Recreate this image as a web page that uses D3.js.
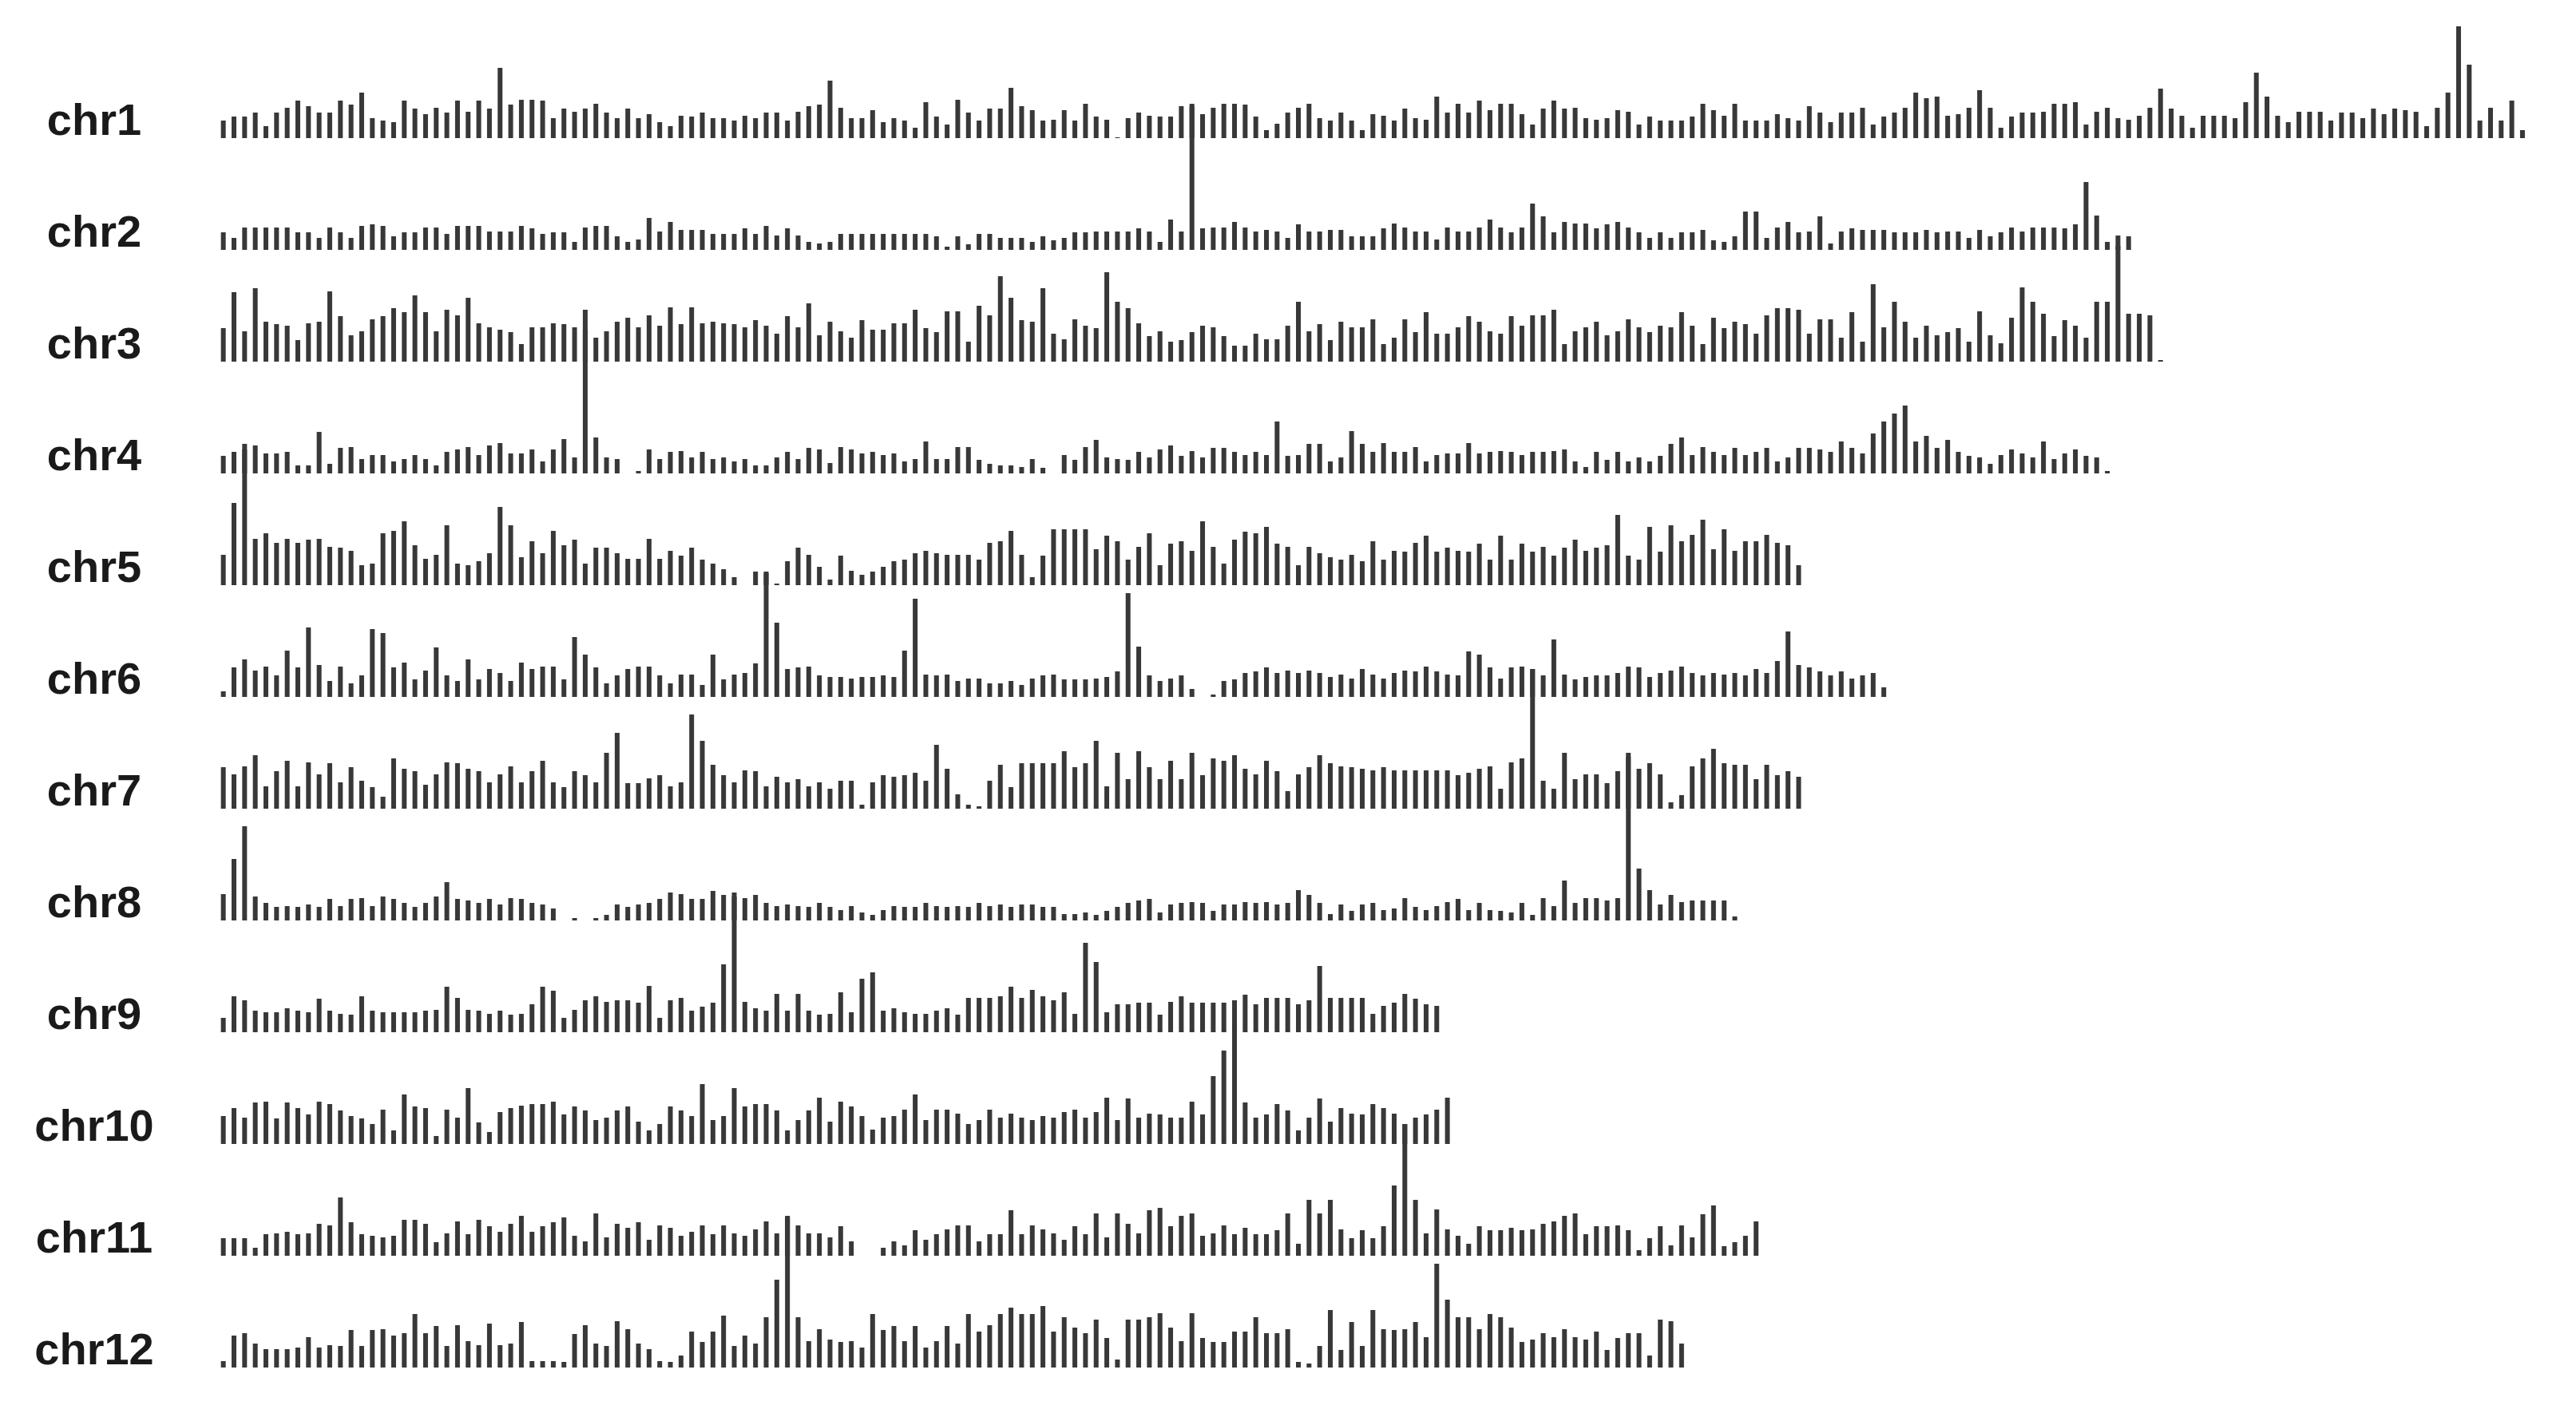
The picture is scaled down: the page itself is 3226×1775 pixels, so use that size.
<!DOCTYPE html>
<html>
<head>
<meta charset="utf-8">
<script src="https://cdn.jsdelivr.net/npm/d3@7"></script>
<style>
  html, body { margin: 0; padding: 0; background: #ffffff; }
  svg { display: block; }
</style>
</head>
<body>
<div id="chart"></div>
<script>
// ---- DATA (values per 200 kb bin, arbitrary units) ----
const chromosomes = ["chr1","chr2","chr3","chr4","chr5","chr6","chr7","chr8","chr9","chr10","chr11","chr12"];
const binSizeMb = 0.2;

const chr1 = [22,27,27,32,15,32,38,47,40,32, 32,47,42,57,25,22,20,47,37,30, 38,32,47,33,47,37,88,42,48,48,
  47,25,37,33,37,43,32,25,37,25, 30,20,15,28,27,32,25,25,22,28, 25,32,32,22,33,40,42,72,38,25,
  25,35,20,25,22,13,45,27,17,48, 32,22,37,37,63,40,35,22,23,35, 22,43,27,23,1,25,32,28,27,27,
  40,43,30,38,43,43,42,27,10,18, 32,38,43,25,22,32,22,10,30,28, 22,37,25,23,52,32,43,32,47,35,
  43,43,30,17,37,47,37,38,25,23, 25,35,33,17,27,22,22,22,27,43, 35,28,43,22,22,22,30,25,22,40,
  32,20,32,32,38,17,27,32,38,57, 50,52,28,30,38,60,38,13,27,32, 32,33,43,43,45,17,33,38,25,23,
  28,38,62,37,28,13,28,28,28,25, 45,82,52,28,20,33,33,33,22,32, 32,25,37,30,37,35,33,15,38,57,
  140,92,22,38,22,47,10];
const chr2 = [22,15,28,28,28,28,28,22,22,15, 28,22,15,30,32,30,17,22,22,28, 28,20,30,30,30,23,23,23,30,27,
  20,22,22,10,28,30,30,17,10,13, 40,23,35,25,25,25,20,20,20,27, 20,30,18,27,18,10,8,10,20,20,
  20,20,20,20,20,20,20,17,4,17, 7,20,20,15,15,15,10,17,12,15, 22,22,23,23,23,23,27,23,10,38,
  23,180,27,28,28,35,28,23,25,23, 15,32,23,23,25,25,17,17,17,27, 33,28,23,23,13,28,23,23,28,38,
  28,22,28,58,42,22,35,33,33,27, 32,35,28,22,15,22,15,22,22,25, 12,10,17,48,48,15,28,35,22,23,
  42,8,23,27,25,25,25,22,22,22, 25,22,23,23,15,25,17,22,28,23, 28,28,28,27,32,85,43,10,5,17];
const chr3 = [42,87,38,92,50,47,45,27,48,50, 88,57,33,38,53,57,67,62,83,62, 38,65,58,80,48,43,40,37,22,43,
  43,48,47,43,40,30,38,50,55,43, 58,45,68,47,68,48,50,48,47,43, 52,45,35,57,43,73,33,50,38,30,
  52,40,40,48,48,65,42,37,63,63, 25,70,58,107,80,52,50,92,35,28, 53,45,42,112,75,67,48,32,38,25,
  27,37,45,43,32,20,20,35,28,28, 45,75,38,47,27,50,43,43,53,22, 30,53,37,62,35,35,43,57,50,38,
  35,57,45,58,58,65,22,38,43,50, 33,38,53,43,37,45,43,62,45,22, 55,42,50,47,35,58,67,67,65,35,
  53,53,30,62,25,97,43,75,50,30, 45,33,37,42,25,63,33,23,55,93, 75,60,32,52,45,30,75,75,158,60,
  60,58,2];
const chr4 = [22,27,37,35,25,25,27,10,10,52, 12,32,33,18,23,23,15,18,23,18, 10,27,30,33,23,35,38,25,25,30,
  15,30,43,20,205,45,20,18,0,3, 30,18,27,28,20,27,18,20,15,18, 10,10,20,27,18,32,30,13,33,30,
  25,27,23,25,15,18,40,18,18,33, 33,17,12,10,10,8,18,7,0,23, 17,33,42,20,18,17,27,20,30,35,
  22,28,20,32,32,27,23,27,23,65, 22,23,37,37,15,20,53,37,27,38, 27,27,33,15,23,25,25,38,25,27,
  28,27,23,27,27,28,30,15,8,27, 17,27,15,20,15,22,37,45,23,33, 27,23,32,23,27,32,15,20,32,32,
  30,27,40,32,25,50,65,75,85,40, 47,32,42,27,22,20,12,23,30,25, 20,40,18,25,30,22,20,3];
const chr5 = [38,103,170,58,65,53,58,53,57,58, 48,47,43,25,27,65,68,80,50,33, 38,75,27,25,30,40,98,75,35,55,
  40,68,50,57,27,47,47,40,33,33, 58,33,43,37,47,32,27,20,10,0, 17,17,2,30,47,38,23,7,37,18,
  13,17,23,30,32,40,43,40,38,38, 38,32,53,55,68,38,10,37,70,70, 70,70,45,62,55,32,48,65,25,52,
  55,43,80,48,27,57,67,65,73,52, 48,25,48,40,35,32,38,30,55,32, 43,42,53,62,42,47,43,42,52,32,
  62,32,52,42,48,37,47,57,43,47, 50,88,37,32,73,42,75,55,63,82, 45,70,43,55,55,63,53,50,25];
const chr6 = [7,37,47,33,38,27,58,37,87,40, 20,38,17,27,85,80,37,43,22,33, 62,27,20,47,22,35,30,20,43,35,
  38,38,22,75,53,37,17,27,35,38, 38,27,17,28,28,15,53,22,28,30, 42,155,93,35,37,38,27,25,25,23,
  25,25,27,25,58,123,28,27,28,20, 23,23,17,17,20,15,23,27,28,22, 22,22,23,25,32,130,63,27,20,23,
  27,10,0,3,20,22,30,32,37,30, 33,30,33,30,25,28,23,35,28,23, 30,33,32,38,32,28,27,57,53,37,
  23,37,38,35,27,72,28,22,25,27, 27,30,38,37,25,30,33,38,30,27, 30,28,30,27,35,30,45,82,40,37,
  32,27,32,23,27,30,12];
const chr7 = [52,43,53,67,28,47,60,28,58,43, 57,33,52,35,27,15,63,50,47,30, 43,58,57,50,47,33,43,53,33,47,
  60,33,27,47,42,33,70,95,32,32, 38,42,28,33,118,85,55,42,33,48, 47,28,40,33,37,28,33,25,35,35,
  5,33,42,40,42,45,35,80,50,18, 5,3,35,55,27,57,57,57,57,72, 52,57,85,28,70,37,72,52,37,60,
  37,70,42,63,60,67,50,43,60,47, 22,43,52,67,57,53,52,50,48,52, 48,48,48,48,48,48,42,45,50,53,
  25,58,63,175,35,25,70,37,43,43, 32,47,70,50,57,43,8,17,53,63, 75,57,55,55,37,55,42,47,40];
const chr8 = [33,77,118,30,22,17,18,17,20,17, 27,18,27,28,18,30,27,22,17,22, 30,48,27,25,22,27,20,28,27,22,
  20,15,0,3,0,3,7,20,17,20, 22,27,35,33,27,27,37,32,35,28, 32,22,18,20,18,17,22,17,13,18,
  10,7,13,18,17,17,22,18,17,18, 17,22,18,20,17,20,20,17,17,8, 8,10,7,12,17,22,25,27,10,20,
  22,23,22,12,20,20,23,22,23,20, 22,38,32,22,8,20,12,20,22,13, 15,28,17,13,18,23,27,13,22,13,
  12,10,22,7,28,18,50,22,28,28, 25,28,205,65,38,20,32,23,25,25, 25,25,5];
const chr9 = [18,45,40,27,25,25,30,27,25,42, 27,23,22,45,27,25,25,25,25,27, 28,57,43,28,27,23,27,22,23,35,
  57,52,18,28,40,45,38,40,40,37, 58,18,40,43,27,32,37,85,170,38, 30,27,48,27,48,27,22,23,50,25,
  67,75,27,30,25,23,23,27,30,22, 43,43,43,45,57,43,53,45,40,50, 23,112,88,25,35,35,37,37,22,38,
  45,37,37,37,37,40,47,35,43,43, 43,35,40,83,43,43,43,43,23,33, 37,48,42,35,33];
const chr10 = [35,45,33,52,53,32,52,45,37,53, 50,42,35,32,25,43,17,62,47,45, 10,43,33,70,27,15,40,45,48,50,
  50,53,37,47,42,30,33,42,47,28, 17,25,47,42,35,75,30,35,70,47, 50,50,42,17,30,42,58,28,53,47,
  35,18,33,35,43,62,30,43,43,38, 25,30,43,33,38,33,30,35,33,40, 43,33,40,58,30,57,33,38,37,33,
  33,53,37,85,117,150,52,33,37,50, 42,17,33,57,28,45,38,37,50,45, 38,25,33,37,43,58];
const chr11 = [22,22,22,10,27,28,30,27,28,40, 38,73,42,27,25,23,25,45,45,40, 17,28,43,27,45,37,30,40,50,30,
  37,42,48,25,18,53,23,40,35,42, 20,38,35,25,30,38,27,38,28,25, 33,43,28,50,38,28,28,23,37,18,
  0,0,10,18,13,32,20,27,33,38, 38,18,27,27,57,27,38,33,28,20, 37,27,53,23,53,40,28,57,60,37,
  50,53,25,28,38,27,35,27,27,32, 53,15,70,53,70,33,22,32,22,37, 88,165,70,28,58,33,25,15,37,32,
  32,35,32,33,40,43,50,53,27,37, 37,38,32,7,22,37,13,38,23,52, 63,12,17,25,43];
const chr12 = [8,40,43,30,23,23,23,25,38,25, 28,27,47,27,47,48,40,43,67,43, 52,27,53,33,28,55,28,30,57,8,
  8,8,7,42,53,30,27,58,48,30, 23,8,7,15,45,32,45,65,27,40, 30,63,110,188,63,33,48,35,32,33,
  25,67,47,52,33,52,25,33,52,30, 67,45,53,67,75,67,67,77,45,63, 50,43,60,37,10,60,60,63,68,50,
  33,68,37,32,32,45,45,63,43,43, 48,7,5,27,72,22,57,27,72,48, 47,48,57,38,130,85,63,63,48,67,
  63,50,32,35,43,38,48,38,35,45, 22,37,43,43,15,60,58,30];

const series = [chr1, chr2, chr3, chr4, chr5, chr6, chr7, chr8, chr9, chr10, chr11, chr12];

// ---- LAYOUT ----
const W = 3226, H = 1775;
const svg = d3.select("#chart").append("svg").attr("width", W).attr("height", H);

const maxMb = 43.4;
const x = d3.scaleLinear().domain([0, maxMb]).range([273, 273 + maxMb * 66.65]);
const row = d3.scalePoint().domain(chromosomes).range([173, 1713]);
const h = d3.scaleLinear().domain([0, 200]).range([0, 200]);
const barW = 6;

chromosomes.forEach((name, ci) => {
  const g = svg.append("g").attr("transform", `translate(0,${row(name)})`);
  g.selectAll("rect")
    .data(series[ci])
    .join("rect")
    .attr("x", (d, i) => x((i + 0.5) * binSizeMb) - barW / 2)
    .attr("y", d => -h(d))
    .attr("width", barW)
    .attr("height", d => h(d))
    .attr("fill", "#383838");
  g.append("text")
    .attr("x", 118)
    .attr("y", -4)
    .attr("text-anchor", "middle")
    .attr("font-family", "'Liberation Sans', Arial, sans-serif")
    .attr("font-weight", "bold")
    .attr("font-size", 56)
    .attr("fill", "#1a1a1a")
    .text(name);
});
</script>
</body>
</html>
